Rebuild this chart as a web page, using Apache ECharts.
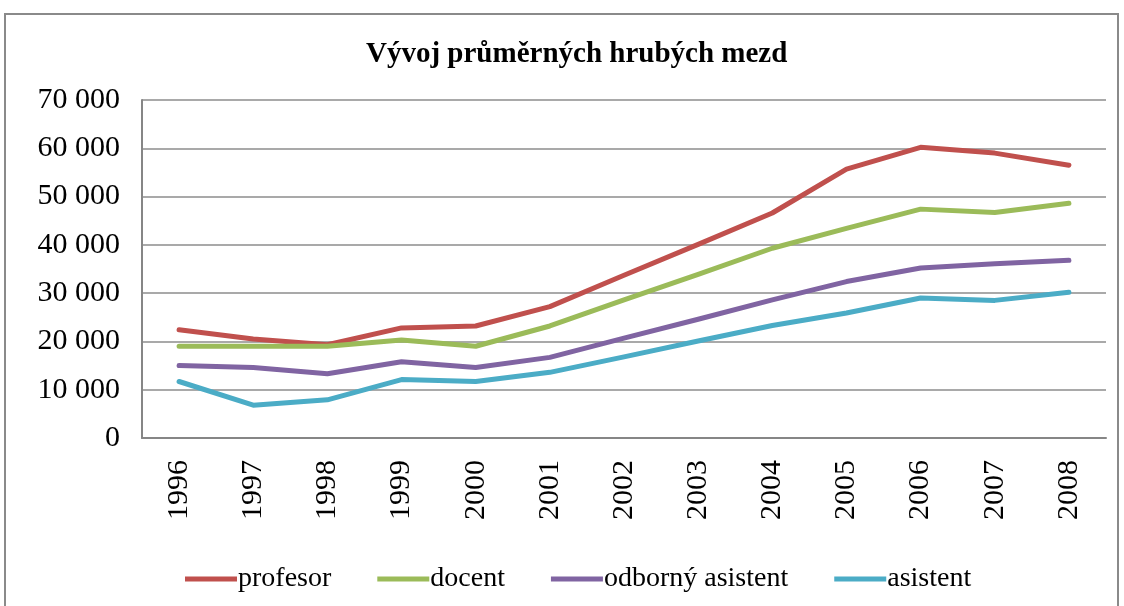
<!DOCTYPE html>
<html>
<head>
<meta charset="utf-8">
<title>Vývoj průměrných hrubých mezd</title>
<script src="https://cdn.jsdelivr.net/npm/echarts@6/dist/echarts.min.js"></script>
<style>
  html, body { margin: 0; padding: 0; background: #fff; }
  #chart { width: 1124px; height: 606px; }
</style>
</head>
<body>
<div id="chart"></div>
<script>
// roky
const years = ['1996', '1997', '1998', '1999', '2000', '2001', '2002', '2003', '2004', '2005', '2006', '2007', '2008']
// hodnoty
const profesor = [22400, 20500, 19300, 22800, 23200, 27200, 33700, 40100, 46600, 55700, 60200, 59000, 56500]
const docent = [19000, 19000, 19000, 20300, 19000, 23200, 28600, 33900, 39300, 43400, 47400, 46700, 48600]
const odborny = [15000, 14600, 13300, 15800, 14600, 16700, 20700, 24600, 28600, 32400, 35200, 36100, 36800]
const asistent = [11700, 6800, 7900, 12100, 11700, 13600, 16800, 20100, 23300, 25900, 29000, 28500, 30200]

const seriesNames = ['profesor', 'docent', 'odborný asistent', 'asistent']
const seriesColors = ['#C0504D', '#9BBB59', '#8064A2', '#4BACC6']
const seriesData = [profesor, docent, odborny, asistent]

const font = 'Liberation Serif, Times New Roman, serif'

const chart = echarts.init(document.getElementById('chart'))

chart.setOption({
  animation: false,
  textStyle: { fontFamily: font },
  graphic: [
    {
      type: 'rect',
      shape: { x: 5, y: 14, width: 1113, height: 620 },
      style: { fill: 'none', stroke: '#8a8a8a', lineWidth: 2 },
      silent: true
    }
  ],
  title: {
    text: 'Vývoj průměrných hrubých mezd',
    left: 361,
    top: 35,
    textStyle: { fontFamily: font, fontSize: 29, fontWeight: 'bold', color: '#000' }
  },
  legend: {
    bottom: 8,
    left: 180,
    itemWidth: 52,
    itemHeight: 5,
    itemGap: 46,
    icon: 'rect',
    textStyle: { fontFamily: font, fontSize: 28, color: '#000', padding: [0, 0, 0, -4] },
    data: seriesNames
  },
  grid: {
    left: 142,
    right: 18,
    top: 100,
    bottom: 168
  },
  xAxis: {
    type: 'category',
    data: years,
    boundaryGap: true,
    axisLine: { lineStyle: { color: '#868686', width: 2 } },
    axisTick: { show: false },
    axisLabel: {
      rotate: 90,
      margin: 22,
      fontFamily: font,
      fontSize: 30,
      color: '#000'
    }
  },
  yAxis: {
    type: 'value',
    min: 0,
    max: 70000,
    interval: 10000,
    axisLine: { show: true, lineStyle: { color: '#868686', width: 2 } },
    axisTick: { show: false },
    splitLine: { lineStyle: { color: '#8c8c8c', width: 1.5 } },
    axisLabel: {
      margin: 22,
      fontFamily: font,
      fontSize: 30,
      color: '#000',
      formatter: v => v === 0 ? '0' : Math.floor(v / 1000) + ' ' + String(v % 1000).padStart(3, '0')
    }
  },
  series: seriesNames.map((name, i) => ({
    name: name,
    type: 'line',
    data: seriesData[i],
    symbol: 'none',
    lineStyle: { color: seriesColors[i], width: 5, cap: 'round', join: 'round' },
    itemStyle: { color: seriesColors[i] }
  }))
})
</script>
</body>
</html>
